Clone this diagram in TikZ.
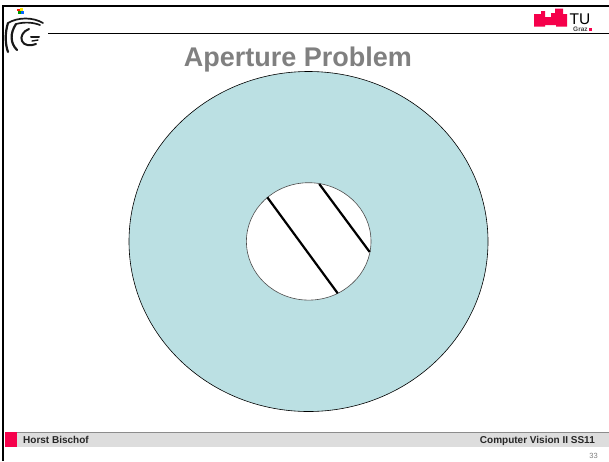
\documentclass[tikz,border=0pt]{standalone}
\usepackage{fontspec}
\setmainfont{Liberation Sans}
\definecolor{ringfill}{HTML}{BBE0E3}
\definecolor{tupink}{HTML}{F5004B}
\definecolor{barfill}{HTML}{DDDDDD}
\definecolor{titlegray}{HTML}{808080}
\tikzset{
 frame/.style={black,line width=2pt},
 footer/.style={font=\bfseries\fontsize{10}{11}\selectfont,inner sep=0pt,text=black!85},
 emblem/.style={black!90,line width=1.7pt,line cap=round}
}
\begin{document}
\begin{tikzpicture}[x=1pt,y=-1pt]
\useasboundingbox (0,0) rectangle (609,461);
\fill[white] (0,0) rectangle (609,461);
% frame
\draw[frame] (3,461) -- (3,6) -- (609,6);
\draw[black,line width=1pt] (48,33.5) -- (609,33.5);
% left emblem
\fill[red!80!orange] (17,8.5) rectangle (20,11);
\fill[yellow!90!orange] (20,8) rectangle (23,11);
\fill[green!60!black] (18,11) rectangle (21,13.5);
\fill[blue!60!cyan] (21,11) rectangle (24,13.5);
\draw[emblem] (8,23) .. controls (18,17) and (33,17) .. (43,23);
\draw[emblem,line width=2.2pt] (8,23) .. controls (5,32) and (5,44) .. (8,52);
\draw[emblem,line width=2.2pt] (16,24) .. controls (10,33) and (10,43) .. (17,50);
\draw[emblem] (16,24) .. controls (24,22) and (32,22) .. (40,25);
\draw[emblem,line width=2pt] (29,29) .. controls (23,31) and (20,37) .. (22,41) .. controls (24,46) and (31,46) .. (36,44);
\draw[emblem,line width=2pt] (31,37) -- (39,37);
\draw[emblem,line width=1.4pt] (32,41) -- (38,40);
% TU logo
\fill[tupink] (534,14) -- (541,14) -- (541,11) -- (545,11) -- (545,17) -- (551,17) -- (551,13) -- (555,13) -- (555,8.5) -- (563,8.5) -- (563,14) -- (567,14) -- (567,26.5) -- (556,26.5) -- (556,25) -- (545,25) -- (545,26.5) -- (534,26.5) -- cycle;
\node[inner sep=0pt,anchor=base west,font=\fontsize{15.5}{15}\selectfont] (tu) at (569.5,24) {TU};
\node[inner sep=0pt,anchor=base west,font=\bfseries\fontsize{6.5}{7}\selectfont,text=black!75] (graz) at (573,31.5) {Graz};
\fill[tupink] (589,28) rectangle (592,31);
% title
\node[inner sep=0pt,anchor=base,font=\bfseries\fontsize{27}{30}\selectfont,text=titlegray] (title) at (298,66) {Aperture Problem};
% ring
\draw[black,line width=.6pt,fill=ringfill] (308.5,241.5) ellipse [x radius=179.5,y radius=170];
\draw[black!70,line width=.6pt,fill=white] (308.7,241.4) ellipse [x radius=62.3,y radius=58.7];
\coordinate (a1) at (267.3,197.3);
\coordinate (a2) at (337.7,293.3);
\coordinate (b1) at (319.3,184);
\coordinate (b2) at (369.7,252);
\draw[black,line width=2.2pt] (a1) -- (a2);
\draw[black,line width=2.2pt] (b1) -- (b2);
% footer
\fill[barfill] (5,432) rectangle (609,447);
\draw[black!45,line width=.4pt] (5,432) -- (609,432);
\fill[tupink] (5,432) rectangle (17,447);
\node[footer,anchor=base west] (author) at (23,443.5) {Horst Bischof};
\node[footer,anchor=base east] (course) at (595,443.5) {Computer Vision II SS11};
\node[inner sep=0pt,anchor=base east,font=\fontsize{7.5}{8}\selectfont,text=black!50] (page) at (598,458) {33};
\end{tikzpicture}
\end{document}
